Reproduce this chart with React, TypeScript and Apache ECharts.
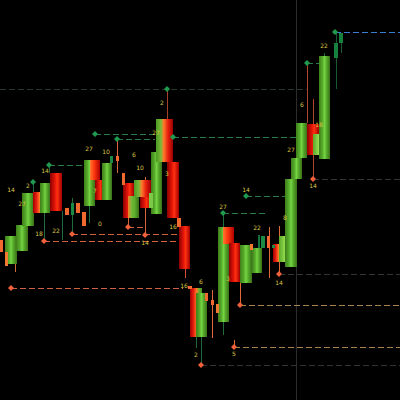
import React, { useEffect, useRef } from "react";
import * as echarts from "echarts";

// Aggregated blocks: [startT, endT, high, low, fill style]
const blocks: [number, number, number, number, string][] = [
  [5, 17, 164, 136, "bull"],
  [16, 28, 175, 149, "bull"],
  [22, 34, 207, 174, "bull"],
  [33, 45, 208, 187, "mixRG"],
  [40, 50, 217, 187, "bull"],
  [50, 62, 227, 189, "bear"],
  [84, 95, 240, 194, "bull"],
  [90, 100, 240, 220, "bearO"],
  [95, 104, 220, 200, "bear"],
  [102, 112, 237, 200, "bull"],
  [123, 134, 217, 182, "bear"],
  [128, 139, 204, 182, "bullO"],
  [134, 151, 220, 203, "mixGR"],
  [140, 151, 203, 192, "bear"],
  [151, 162, 248, 186, "bull"],
  [156, 173, 281, 238, "mixGR"],
  [167, 179, 238, 182, "bear"],
  [179, 190, 174, 131, "bear"],
  [190, 202, 112, 63, "mixRG"],
  [196, 207, 107, 63, "bull"],
  [218, 229, 173, 78, "bull"],
  [223, 234, 173, 156, "bearO"],
  [229, 240, 157, 118, "bear"],
  [240, 252, 155, 117, "bull"],
  [252, 262, 152, 127, "bull"],
  [273, 283, 156, 138, "mixRG"],
  [279, 292, 164, 138, "bullLight"],
  [285, 297, 221, 133, "bull"],
  [291, 302, 242, 221, "bull"],
  [296, 307, 277, 242, "bull"],
  [307, 319, 276, 245, "bear"],
  [313, 325, 266, 245, "bullLight"],
  [319, 330, 344, 241, "bull"],
];

// Single candles: [startT, endT, top, bottom, colour]
const candles: [number, number, number, number, string][] = [
  [0, 3, 160, 148, "#f06a30"],
  [5, 8, 148, 134, "#f07a30"],
  [65, 69, 192, 185, "#f06a30"],
  [71, 74, 197, 185, "#1a8a45"],
  [76, 80, 197, 187, "#f06a30"],
  [82, 86, 188, 174, "#f06a30"],
  [110, 113, 244, 237, "#1a8a45"],
  [116, 119, 244, 239, "#f06a30"],
  [122, 125, 227, 215, "#f06a30"],
  [149, 153, 207, 192, "#7cc848"],
  [177, 181, 182, 173, "#f06a30"],
  [188, 192, 114, 111, "#f06a30"],
  [205, 208, 107, 99, "#f06a30"],
  [211, 214, 100, 95, "#f06a30"],
  [216, 219, 96, 87, "#f07a30"],
  [250, 253, 156, 150, "#f07a30"],
  [258, 260, 165, 152, "#16703a"],
  [261, 265, 164, 152, "#1a8a45"],
  [267, 270, 164, 152, "#f06a30"],
  [272, 275, 155, 152, "#1a8a45"],
  [334, 338, 357, 342, "#16803e"],
  [339, 343, 367, 357, "#16803e"],
];

// Wicks: [t, high, low, colour]
const wicks: [number, number, number, string][] = [
  [15, 136, 128, "#d06a3a"],
  [33, 218, 200, "#1f6b3a"],
  [44, 217, 159, "#1f6b3a"],
  [49, 235, 227, "#1f6b3a"],
  [62, 189, 160, "#1f6b3a"],
  [72, 202, 166, "#1f6b3a"],
  [89, 194, 177, "#1f6b3a"],
  [117, 261, 227, "#d8643a"],
  [128, 182, 173, "#d8643a"],
  [145, 223, 165, "#d8643a"],
  [167, 311, 281, "#a8402a"],
  [185, 131, 122, "#d8503a"],
  [196, 63, 52, "#1f6b3a"],
  [201, 63, 35, "#1f6b3a"],
  [212, 110, 62, "#e06a3a"],
  [223, 187, 65, "#1f6b3a"],
  [234, 60, 53, "#e06a3a"],
  [240, 119, 95, "#e06a3a"],
  [269, 173, 122, "#e06a3a"],
  [279, 174, 126, "#e06a3a"],
  [307, 337, 277, "#b0452e"],
  [313, 301, 221, "#b0452e"],
  [324, 347, 344, "#1f6b3a"],
  [336, 368, 311, "#1a5a30"],
  [341, 357, 347, "#1a5a30"],
];

// Swing points with their level lines: [t, price, lineFrom, lineTo, style]
const pivots: [number, number, number, number, string][] = [
  [167, 311, 0, 307, "gD"],
  [95, 266, 95, 155, "gG"],
  [117, 261, 117, 155, "gG"],
  [173, 263, 173, 296, "gG"],
  [49, 235, 49, 95, "gG"],
  [33, 218, 33, 33, "gG"],
  [223, 187, 223, 265, "gG"],
  [246, 204, 246, 290, "gG"],
  [307, 337, 307, 320, "gG"],
  [335, 368, 335, 400, "gB"],
  [11, 112, 11, 183, "oO"],
  [44, 159, 44, 180, "oO"],
  [72, 166, 72, 178, "oO"],
  [128, 173, 128, 145, "oO"],
  [145, 165, 145, 145, "oO"],
  [201, 35, 201, 400, "oD"],
  [240, 95, 240, 400, "oT"],
  [234, 53, 234, 400, "oT"],
  [279, 126, 279, 400, "oD"],
  [313, 221, 313, 400, "oD"],
];

// Bar count tags: [t, price, text]
const tags: [number, number, string][] = [
  [11, 211, "14"],
  [28, 215, "2"],
  [22, 197, "27"],
  [45, 230, "14"],
  [39, 167, "18"],
  [56, 170, "22"],
  [89, 252, "27"],
  [106, 249, "10"],
  [134, 246, "6"],
  [95, 210, "7"],
  [100, 177, "0"],
  [156, 268, "27"],
  [140, 233, "10"],
  [167, 227, "3"],
  [173, 174, "16"],
  [145, 158, "14"],
  [162, 298, "2"],
  [246, 211, "14"],
  [223, 194, "27"],
  [257, 173, "22"],
  [184, 115, "16"],
  [201, 119, "6"],
  [228, 122, "3"],
  [196, 46, "2"],
  [234, 47, "5"],
  [285, 183, "8"],
  [279, 118, "14"],
  [324, 355, "22"],
  [302, 296, "6"],
  [319, 276, "18"],
  [291, 251, "27"],
  [313, 215, "14"],
];

const cursorT = 296;

const gradients: Record<string, [number, string][]> = {
  bull: [[0, "#3f7f1a"], [0.3, "#55a82a"], [0.5, "#74d442"], [0.7, "#55a82a"], [1, "#3a7018"]],
  bullLight: [[0, "#5aa82a"], [0.5, "#9ae052"], [1, "#6cc030"]],
  bullO: [[0, "#ff7a2a"], [0.3, "#7ab83a"], [0.6, "#5cb02c"], [1, "#3a7018"]],
  bear: [[0, "#8c0000"], [0.4, "#e01408"], [0.6, "#ff3010"], [1, "#a00000"]],
  bearO: [[0, "#ff7a30"], [0.4, "#ff3a10"], [1, "#b00000"]],
  mixGR: [[0, "#4c9a22"], [0.3, "#7ab83a"], [0.45, "#ff7a2a"], [0.7, "#e82010"], [1, "#9a0000"]],
  mixRG: [[0, "#a00000"], [0.3, "#e82010"], [0.55, "#ff7a2a"], [0.75, "#6ab030"], [1, "#4a8a20"]],
};

const pivotStyles: Record<string, { mark: string; line: string }> = {
  gG: { mark: "#1f9a4e", line: "#2a7a45" },
  gD: { mark: "#1f9a4e", line: "#26382c" },
  gB: { mark: "#1f9a4e", line: "#3a7fd0" },
  oO: { mark: "#f0603a", line: "#d0603e" },
  oT: { mark: "#f0603a", line: "#a8844e" },
  oD: { mark: "#f0603a", line: "#333333" },
};

function gradient(kind: string) {
  const stops = (gradients[kind] || gradients.bull).map(([offset, color]) => ({ offset, color }));
  return new echarts.graphic.LinearGradient(0, 0, 1, 0, stops);
}

export default function App() {
  const ref = useRef<HTMLDivElement>(null);

  useEffect(() => {
    if (!ref.current) return;
    const chart = echarts.init(ref.current, null, { renderer: "svg" });

    const option: any = {
      animation: false,
      backgroundColor: "#000000",
      grid: { left: 0, right: 0, top: 0, bottom: 0 },
      xAxis: { type: "value", min: 0, max: 400, show: false },
      yAxis: { type: "value", min: 0, max: 400, show: false },
      series: [
        {
          type: "custom",
          z: 1,
          silent: true,
          data: [[cursorT]],
          renderItem: (params: any, api: any) => {
            const p = api.coord([api.value(0), 0]);
            const cs = params.coordSys;
            return {
              type: "line",
              shape: { x1: Math.round(p[0]) + 0.5, y1: cs.y, x2: Math.round(p[0]) + 0.5, y2: cs.y + cs.height },
              style: { stroke: "#2c2c2c", lineWidth: 1 },
            };
          },
        },
        {
          type: "custom",
          z: 2,
          silent: true,
          data: pivots.map((p) => [p[0], p[1]]),
          renderItem: (params: any, api: any) => {
            const p = pivots[params.dataIndex];
            const st = pivotStyles[p[4]];
            if (p[3] <= p[2]) return { type: "group", children: [] };
            const a = api.coord([p[2], p[1]]);
            const b = api.coord([p[3], p[1]]);
            const y = Math.round(a[1]) + 0.5;
            return {
              type: "line",
              shape: { x1: a[0], y1: y, x2: b[0], y2: y },
              style: { stroke: st.line, lineWidth: 1, lineDash: [6, 3] },
            };
          },
        },
        {
          type: "custom",
          z: 3,
          silent: true,
          data: wicks.map((w) => [w[0], w[1], w[2]]),
          renderItem: (params: any, api: any) => {
            const w = wicks[params.dataIndex];
            const a = api.coord([w[0], w[1]]);
            const b = api.coord([w[0], w[2]]);
            const x = Math.round(a[0]) + 0.5;
            return {
              type: "line",
              shape: { x1: x, y1: a[1], x2: x, y2: b[1] },
              style: { stroke: w[3], lineWidth: 1 },
            };
          },
        },
        {
          type: "custom",
          z: 4,
          silent: true,
          data: blocks.map((b) => [b[0], b[2], b[1], b[3]]),
          renderItem: (params: any, api: any) => {
            const b = blocks[params.dataIndex];
            const a = api.coord([b[0], b[2]]);
            const c = api.coord([b[1], b[3]]);
            return {
              type: "rect",
              shape: { x: a[0], y: a[1], width: c[0] - a[0], height: c[1] - a[1] },
              style: { fill: gradient(b[4]) },
            };
          },
        },
        {
          type: "custom",
          z: 5,
          silent: true,
          data: candles.map((c) => [c[0], c[2], c[1], c[3]]),
          renderItem: (params: any, api: any) => {
            const c = candles[params.dataIndex];
            const a = api.coord([c[0], c[2]]);
            const d = api.coord([c[1], c[3]]);
            return {
              type: "rect",
              shape: { x: a[0], y: a[1], width: d[0] - a[0], height: Math.max(1, d[1] - a[1]) },
              style: { fill: c[4] },
            };
          },
        },
        {
          type: "custom",
          z: 6,
          silent: true,
          data: pivots.map((p) => [p[0], p[1]]),
          renderItem: (params: any, api: any) => {
            const p = pivots[params.dataIndex];
            const st = pivotStyles[p[4]];
            const c = api.coord([p[0], p[1]]);
            const r = 3;
            return {
              type: "polygon",
              shape: { points: [[c[0], c[1] - r], [c[0] + r, c[1]], [c[0], c[1] + r], [c[0] - r, c[1]]] },
              style: { fill: st.mark },
            };
          },
        },
        {
          type: "custom",
          z: 7,
          silent: true,
          data: tags.map((t) => [t[0], t[1]]),
          renderItem: (params: any, api: any) => {
            const t = tags[params.dataIndex];
            const c = api.coord([t[0], t[1]]);
            return {
              type: "text",
              x: c[0],
              y: c[1],
              style: {
                text: t[2],
                fill: "#dcc545",
                fontSize: 6,
                fontFamily: "DejaVu Sans",
                align: "center",
                verticalAlign: "middle",
              },
            };
          },
        },
      ],
    };

    chart.setOption(option);
    return () => chart.dispose();
  }, []);

  return (
    <div
      ref={ref}
      style={{ position: "absolute", left: 0, top: 0, width: 400, height: 400, background: "#000" }}
    />
  );
}
